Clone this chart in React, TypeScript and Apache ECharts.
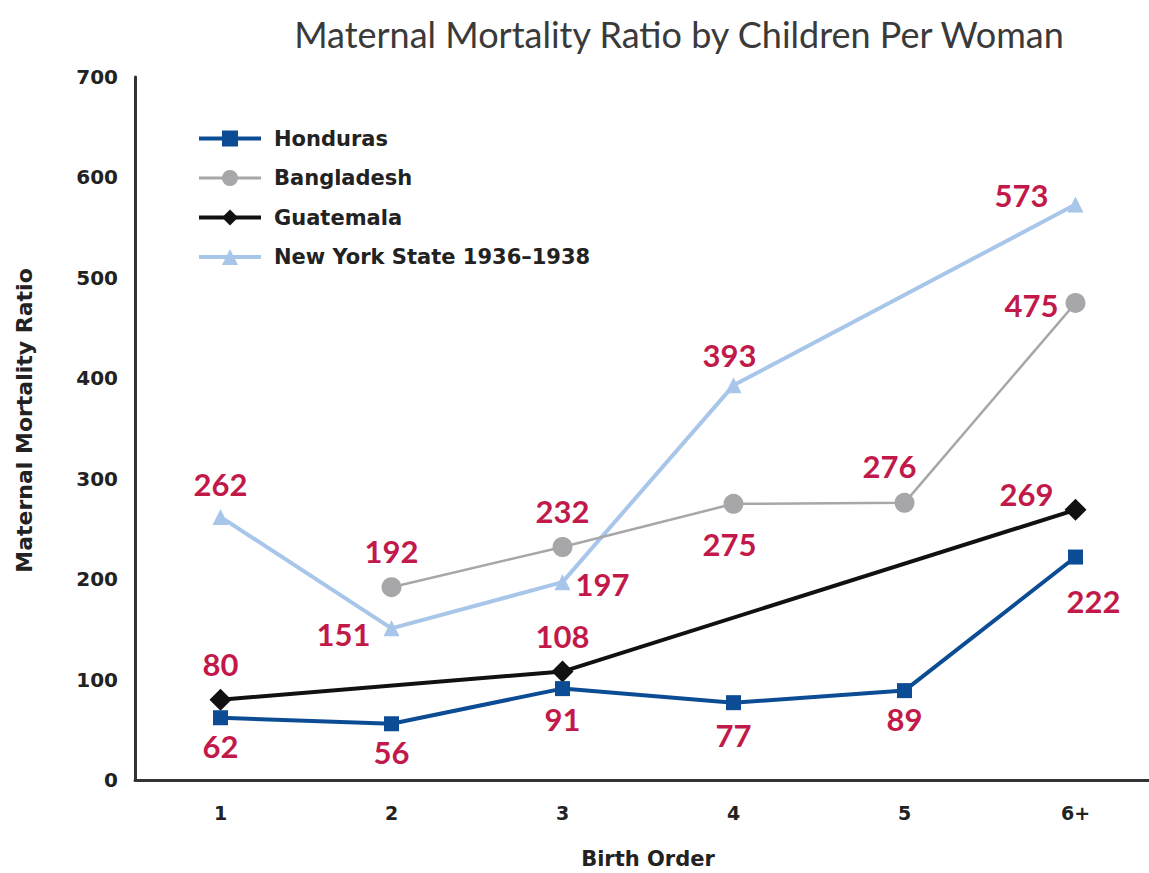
import React, { useEffect, useRef } from "react";
import * as echarts from "echarts";

const categories = ["1", "2", "3", "4", "5", "6+"];
const honduras = [62, 56, 91, 77, 89, 222];
const bangladesh = [null, 192, 232, 275, 276, 475];
const guatemala = [80, null, 108, null, null, 269];
const newYork = [262, 151, 197, 393, null, 573];
const yTicks = [0, 100, 200, 300, 400, 500, 600, 700];

const LABEL_COLOR = "#c2194b";
const LABEL_FONT = "Lato";

type Place = [string, number, number];

function withLabels(values: (number | null)[], places: (Place | null)[]) {
  return values.map((v, i) => {
    const p = places[i];
    if (v === null || !p) return v;
    return {
      value: v,
      label: {
        show: true,
        position: p[0],
        offset: [p[1], p[2]],
        color: LABEL_COLOR,
        fontFamily: LABEL_FONT,
        fontWeight: "bold",
        fontSize: 31,
      },
    };
  });
}

export default function App() {
  const ref = useRef<HTMLDivElement>(null);
  useEffect(() => {
    if (!ref.current) return;
    const chart = echarts.init(ref.current, undefined, { renderer: "svg" });
    const boldFont = {
      fontFamily: "DejaVu Sans",
      fontWeight: "bold",
      color: "#222",
    };
    const option = {
      animation: false,
      backgroundColor: "#ffffff",
      title: {
        text: "Maternal Mortality Ratio by Children Per Woman",
        left: 674,
        textAlign: "center",
        top: 11,
        textStyle: {
          fontFamily: "Lato",
          fontWeight: "normal",
          fontSize: 36,
          color: "#3a3a3a",
        },
      },
      legend: {
        orient: "vertical",
        left: 192,
        top: 123,
        itemWidth: 62,
        itemHeight: 20,
        itemGap: 18.5,
        textStyle: {
          ...boldFont,
          fontSize: 21,
          lineHeight: 21,
          padding: [0, 0, 0, 8],
        },
        data: [
          { name: "Honduras", lineStyle: { width: 4 } },
          { name: "Bangladesh", lineStyle: { width: 3 } },
          { name: "Guatemala", lineStyle: { width: 4 } },
          { name: "New York State 1936–1938", lineStyle: { width: 4 } },
        ],
      },
      grid: {
        left: 135,
        right: -12,
        top: 77,
        bottom: 93,
        containLabel: false,
        outerBoundsMode: "none",
      },
      xAxis: {
        type: "category",
        data: categories,
        boundaryGap: true,
        name: "Birth Order",
        nameLocation: "middle",
        nameGap: 68,
        nameTextStyle: { ...boldFont, fontSize: 21 },
        axisLine: { lineStyle: { color: "#333", width: 3 } },
        axisTick: { show: false },
        axisLabel: { ...boldFont, fontSize: 19, margin: 23 },
      },
      yAxis: {
        type: "value",
        min: yTicks[0],
        max: yTicks[yTicks.length - 1],
        interval: 100,
        name: "Maternal Mortality Ratio",
        nameLocation: "middle",
        nameGap: 100,
        nameTextStyle: { ...boldFont, fontSize: 22, padding: [0, 0, 0, 16] },
        axisLine: { show: true, lineStyle: { color: "#333", width: 3 } },
        axisTick: { show: false },
        splitLine: { show: false },
        axisLabel: { ...boldFont, fontSize: 20, margin: 17 },
      },
      series: [
        {
          name: "New York State 1936–1938",
          type: "line",
          connectNulls: true,
          symbol: "triangle",
          symbolSize: 16,
          itemStyle: { color: "#a8c6e9" },
          lineStyle: { color: "#a8c6e9", width: 4 },
          data: withLabels(newYork, [
            ["top", 0, -4],
            ["left", -8, 6],
            ["right", 0, 2],
            ["top", -4, -2],
            null,
            ["left", -14, -10],
          ]),
          z: 2,
        },
        {
          name: "Bangladesh",
          type: "line",
          connectNulls: true,
          symbol: "circle",
          symbolSize: 20,
          itemStyle: { color: "#a7a7a9" },
          lineStyle: { color: "#a7a7a9", width: 2.5 },
          data: withLabels(bangladesh, [
            null,
            ["top", 0, -6],
            ["top", 0, -6],
            ["bottom", -4, 10],
            ["top", -15, -6],
            ["left", -2, 2],
          ]),
          z: 3,
        },
        {
          name: "Guatemala",
          type: "line",
          connectNulls: true,
          symbol: "diamond",
          symbolSize: 22,
          itemStyle: { color: "#111" },
          lineStyle: { color: "#111", width: 4 },
          data: withLabels(guatemala, [
            ["top", 0, -4],
            null,
            ["top", 0, -4],
            null,
            null,
            ["left", -6, -16],
          ]),
          z: 4,
        },
        {
          name: "Honduras",
          type: "line",
          connectNulls: true,
          symbol: "rect",
          symbolSize: 15,
          itemStyle: { color: "#0b4c94" },
          lineStyle: { color: "#0b4c94", width: 4 },
          data: withLabels(honduras, [
            ["bottom", 0, 0],
            ["bottom", 0, 0],
            ["bottom", 0, 2],
            ["bottom", 0, 4],
            ["bottom", 0, 0],
            ["bottom", 18, 16],
          ]),
          z: 5,
        },
      ],
    };
    chart.setOption(option as any);
    return () => chart.dispose();
  }, []);
  return (
    <div
      ref={ref}
      style={{
        position: "fixed",
        left: 0,
        top: 0,
        width: 1149,
        height: 873,
        overflow: "hidden",
      }}
    />
  );
}
